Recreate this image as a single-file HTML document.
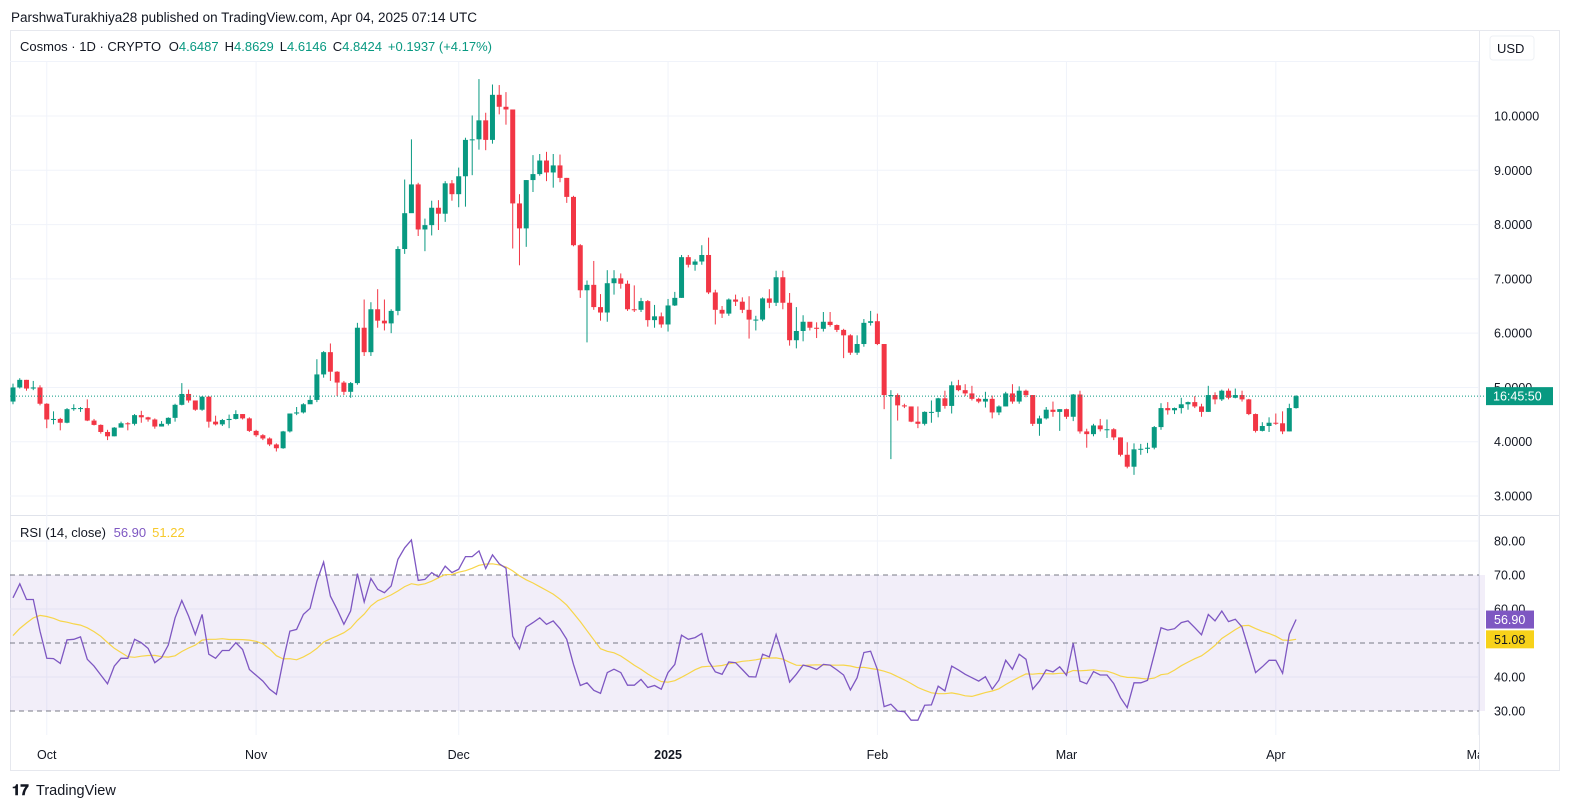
<!DOCTYPE html>
<html><head><meta charset="utf-8">
<style>
html,body{margin:0;padding:0;background:#fff;}
svg{display:block;font-family:"Liberation Sans",sans-serif;}
</style></head>
<body>
<svg id="chart" width="1570" height="810" viewBox="0 0 1570 810" xmlns="http://www.w3.org/2000/svg">
<defs><clipPath id="plotclip"><rect x="0" y="0" width="1479" height="810"/></clipPath></defs>
<rect x="0" y="0" width="1570" height="810" fill="#ffffff"/>
<text x="11" y="22" font-size="13.5" fill="#131722">ParshwaTurakhiya28 published on TradingView.com, Apr 04, 2025 07:14 UTC</text>
<rect x="10.5" y="30.5" width="1549" height="740" fill="none" stroke="#e6e8ee"/>
<line x1="10" y1="61.5" x2="1479" y2="61.5" stroke="#f0f3fa"/>
<line x1="1479.5" y1="30" x2="1479.5" y2="770" stroke="#e6e8ee"/>
<line x1="10" y1="515.5" x2="1559" y2="515.5" stroke="#e0e3eb"/>
<g id="grid"></g>
<g id="rsiBand"></g>
<g id="candles"></g>
<g id="rsiLines"></g>
<g id="axes"></g>
<text x="20" y="51" font-size="13" fill="#131722">Cosmos · 1D · CRYPTO <tspan dx="4">O</tspan><tspan fill="#089981">4.6487</tspan><tspan dx="6">H</tspan><tspan fill="#089981">4.8629</tspan><tspan dx="6">L</tspan><tspan fill="#089981">4.6146</tspan><tspan dx="6">C</tspan><tspan fill="#089981">4.8424</tspan><tspan dx="6" fill="#089981">+0.1937 (+4.17%)</tspan></text>
<g>
<rect x="1490" y="36" width="44" height="24" rx="3" fill="#fff" stroke="#eef0f4"/>
<text x="1497" y="53" font-size="13" fill="#131722">USD</text>
</g>
<text x="20" y="537" font-size="13" fill="#131722">RSI (14, close) <tspan dx="4" fill="#7e57c2">56.90</tspan><tspan dx="6" fill="#f7c92b">51.22</tspan></text>
<g>
<text x="12" y="795" font-size="15" font-weight="bold" fill="#131722">𝟏𝟕</text>
<text x="36" y="795" font-size="14.5" fill="#131722">TradingView</text>
</g>
</svg>
<script>
const closes=[5.00,5.14,4.98,5.00,4.70,4.41,4.42,4.35,4.60,4.62,4.62,4.39,4.31,4.18,4.10,4.26,4.34,4.33,4.49,4.45,4.41,4.28,4.33,4.44,4.68,4.88,4.76,4.59,4.83,4.37,4.32,4.40,4.42,4.51,4.43,4.20,4.12,4.06,3.95,3.88,4.19,4.52,4.54,4.69,4.77,5.24,5.65,5.29,5.09,4.92,5.08,6.10,5.65,6.44,6.23,6.18,6.41,7.55,8.21,8.74,7.91,7.99,8.31,8.20,8.76,8.56,8.89,9.56,9.57,9.92,9.56,10.39,10.17,10.12,8.39,7.93,8.82,8.93,9.18,8.96,9.09,8.86,8.51,7.62,6.79,6.89,6.48,6.38,6.92,7.01,6.91,6.44,6.43,6.59,6.24,6.31,6.16,6.51,6.65,7.40,7.26,7.32,7.44,6.75,6.43,6.36,6.62,6.58,6.43,6.25,6.25,6.64,6.56,7.03,6.56,5.87,6.04,6.21,6.10,6.08,6.21,6.15,6.06,5.96,5.64,5.80,6.19,6.22,5.80,4.86,4.86,4.67,4.65,4.37,4.33,4.55,4.55,4.80,4.66,5.04,4.95,4.89,4.79,4.74,4.79,4.54,4.65,4.89,4.74,4.94,4.86,4.33,4.43,4.59,4.55,4.60,4.46,4.87,4.19,4.14,4.30,4.23,4.23,4.08,3.76,3.54,3.86,3.87,3.89,4.27,4.62,4.58,4.62,4.69,4.73,4.65,4.55,4.86,4.78,4.94,4.81,4.86,4.78,4.51,4.20,4.29,4.35,4.34,4.19,4.62,4.84];
const highs=[5.07,5.17,5.14,5.12,5.04,4.71,4.56,4.44,4.62,4.69,4.64,4.78,4.42,4.32,4.22,4.27,4.37,4.36,4.51,4.57,4.46,4.43,4.38,4.45,4.70,5.08,4.96,4.76,4.84,4.84,4.48,4.42,4.50,4.58,4.51,4.45,4.22,4.14,4.08,3.97,4.20,4.52,4.64,4.71,4.85,5.52,5.67,5.81,5.30,5.12,5.10,6.19,6.62,6.57,6.81,6.62,6.44,7.60,8.83,9.57,8.77,8.11,8.44,8.45,8.80,8.82,9.05,9.60,10.01,10.68,10.06,10.58,10.57,10.44,10.12,8.56,8.82,9.28,9.30,9.34,9.30,9.29,8.86,8.53,7.64,6.97,7.33,6.72,7.16,7.16,7.10,6.97,6.88,6.65,6.61,6.52,6.38,6.63,6.76,7.44,7.44,7.36,7.62,7.76,6.80,6.50,6.64,6.71,6.66,6.68,6.32,6.66,6.81,7.15,7.15,6.74,6.48,6.33,6.20,6.20,6.39,6.39,6.16,6.08,5.98,5.96,6.26,6.41,6.36,5.80,4.95,4.89,4.70,4.65,4.65,4.56,4.76,4.81,4.94,5.11,5.14,5.06,5.03,4.81,4.92,4.85,4.67,4.92,5.06,5.02,4.96,4.86,4.48,4.64,4.74,4.60,4.61,4.88,4.94,4.24,4.33,4.42,4.41,4.25,4.08,3.99,3.97,3.96,3.98,4.29,4.71,4.73,4.63,4.81,4.74,4.84,4.70,5.03,4.91,4.96,4.98,4.98,4.94,4.79,4.52,4.36,4.45,4.52,4.56,4.70,4.86];
const lows=[4.69,4.98,4.94,4.95,4.67,4.25,4.32,4.21,4.34,4.57,4.55,4.38,4.30,4.15,4.03,4.10,4.30,4.21,4.30,4.35,4.37,4.24,4.28,4.30,4.37,4.67,4.72,4.57,4.57,4.26,4.30,4.29,4.25,4.41,4.41,4.18,4.09,4.03,3.92,3.82,3.87,4.17,4.49,4.52,4.70,4.73,5.18,5.12,4.84,4.86,4.81,5.05,5.58,5.58,6.10,6.05,6.00,6.33,7.46,8.23,7.79,7.51,7.80,7.90,8.05,8.44,8.32,8.33,8.91,9.38,9.37,9.49,10.03,9.84,7.56,7.25,7.59,8.60,8.90,8.80,8.68,8.78,8.40,7.60,6.65,5.83,6.43,6.23,6.21,6.71,6.82,6.41,6.39,6.39,6.12,6.10,6.10,6.03,6.50,6.65,7.21,7.15,7.26,6.72,6.16,6.28,6.32,6.50,6.37,5.90,6.05,6.22,6.46,6.50,6.44,5.77,5.72,5.85,6.05,5.91,6.03,6.12,6.02,5.54,5.60,5.60,5.75,6.14,5.78,4.60,3.68,4.39,4.62,4.36,4.25,4.30,4.35,4.45,4.61,4.52,4.93,4.84,4.76,4.71,4.63,4.43,4.49,4.65,4.70,4.70,4.82,4.29,4.11,4.41,4.46,4.20,4.42,4.38,4.15,3.89,4.10,4.19,4.07,4.03,3.73,3.51,3.39,3.76,3.79,3.86,4.22,4.50,4.51,4.52,4.59,4.62,4.46,4.55,4.69,4.75,4.78,4.80,4.74,4.49,4.17,4.19,4.18,4.31,4.14,4.19,4.61];
const firstOpen=4.74;
const rsiValues=[63.3,67.4,62.8,62.8,53.5,45.5,45.4,44.0,50.9,51.1,51.8,45.2,43.2,40.6,38.0,43.2,45.5,45.5,51.1,50.1,48.4,44.2,45.7,49.4,57.4,62.5,57.9,52.5,58.4,46.7,45.5,47.8,47.8,50.1,48.1,42.2,40.5,38.8,36.4,34.9,44.7,53.5,54.0,58.4,60.2,68.2,73.8,63.8,59.9,55.5,59.4,70.4,62.1,69.0,65.8,64.8,66.8,74.6,78.0,80.3,68.4,68.7,70.7,69.4,72.6,70.7,
71.7,75.4,75.4,77.1,71.9,75.9,73.3,72.0,52.0,48.3,54.7,56.0,57.4,55.5,56.5,54.2,51.1,43.7,37.5,38.3,36.1,35.2,41.3,42.3,41.3,37.6,37.6,39.3,36.9,37.5,36.4,41.3,43.7,52.3,51.1,51.6,52.8,44.7,41.5,40.8,44.4,44.2,42.2,40.1,40.0,46.7,45.9,52.5,46.2,38.5,40.8,43.5,43.0,42.2,43.7,43.5,42.1,40.6,36.2,39.8,47.2,47.6,42.2,31.3,32.0,
30.0,29.8,27.3,27.3,31.7,31.8,37.3,35.9,43.2,42.1,40.8,39.8,38.8,40.1,36.4,39.1,44.9,42.3,46.7,45.2,36.4,38.8,42.1,41.5,43.0,40.5,49.9,38.8,38.0,41.6,40.6,40.6,38.1,33.9,31.0,38.3,38.3,39.0,46.7,54.5,53.8,54.2,56.0,56.5,54.5,52.4,58.4,56.5,59.4,56.3,57.0,54.7,48.1,41.3,43.0,44.9,44.9,41.1,52.6,56.9];
const rsiPrior=[38,40,42,43,50,53,55,56,58,57,56,59,60];
const priceTicks=[3,4,5,6,7,8,9,10];
const rsiTicks=[30,40,50,60,70,80];
const monthLabels=["Oct","Nov","Dec","2025","Feb","Mar","Apr","May"];
const monthDayIndex=[5,36,66,97,128,156,187,217];

const NS="http://www.w3.org/2000/svg";
function mk(tag,attrs,parent){const e=document.createElementNS(NS,tag);for(const k in attrs)e.setAttribute(k,attrs[k]);parent.appendChild(e);return e;}
const X0=13,DX=6.753,PLEFT=10,PRIGHT=1479;
const xOf=i=>X0+i*DX;
const yP=p=>116+(10-p)*54.29;
const yR=r=>541+(80-r)*3.4;
const grid=document.getElementById('grid'),band=document.getElementById('rsiBand'),cg=document.getElementById('candles'),rl=document.getElementById('rsiLines'),ax=document.getElementById('axes');

priceTicks.forEach(p=>{const l=mk('line',{x1:PLEFT,x2:PRIGHT,y1:yP(p),y2:yP(p),stroke:'#f0f3fa'},grid);

});
[80,60,40].forEach(r=>{const l=mk('line',{x1:PLEFT,x2:PRIGHT,y1:yR(r),y2:yR(r),stroke:'#f0f3fa'},grid);

});
monthDayIndex.forEach(d=>{const x=xOf(d);if(x<PRIGHT){const l=mk('line',{x1:x,x2:x,y1:62,y2:735,stroke:'#f0f3fa'},grid);

}});

const br=mk('rect',{x:PLEFT,y:yR(70),width:1485-PLEFT,height:yR(30)-yR(70),fill:'rgba(126,87,194,0.1)'},band);


[70,50,30].forEach(r=>{const l=mk('line',{x1:PLEFT,x2:1479,y1:yR(r),y2:yR(r),stroke:'#787b86','stroke-dasharray':'5,4','stroke-width':1},band);

});

closes.forEach((c,i)=>{
  const o=i===0?firstOpen:closes[i-1];
  const up=c>=o;const col=up?'#089981':'#f23645';
  const x=xOf(i);
  const g=mk('g',{},cg);
  
  
  mk('line',{x1:x,x2:x,y1:yP(highs[i]),y2:yP(lows[i]),stroke:col,'stroke-width':1},g);
  const t=yP(Math.max(o,c)),b=yP(Math.min(o,c));
  mk('rect',{x:x-2.5,y:t,width:5,height:Math.max(1,b-t),fill:col},g);
});
const lastC=closes[closes.length-1];
const lp=mk('line',{x1:PLEFT,x2:1486,y1:yP(lastC),y2:yP(lastC),stroke:'#089981','stroke-dasharray':'1,2'},cg);



const all=rsiPrior.concat(rsiValues);
const ma=rsiValues.map((v,i)=>{let s=0;for(let k=0;k<14;k++)s+=all[i+rsiPrior.length-k];return s/14;});
const maPath=mk('path',{d:ma.map((v,i)=>(i?'L':'M')+xOf(i).toFixed(1)+' '+yR(v).toFixed(1)).join(''),fill:'none',stroke:'#f7d54a','stroke-width':1.2},rl);


const rsiPath=mk('path',{d:rsiValues.map((v,i)=>(i?'L':'M')+xOf(i).toFixed(1)+' '+yR(v).toFixed(1)).join(''),fill:'none',stroke:'#7e57c2','stroke-width':1.3},rl);



priceTicks.forEach(p=>{const t=mk('text',{x:1494,y:yP(p)+4.5,'font-size':12.5,fill:'#131722'},ax);t.textContent=p.toFixed(4);

});
rsiTicks.forEach(r=>{const t=mk('text',{x:1494,y:yR(r)+4.5,'font-size':12.5,fill:'#131722'},ax);t.textContent=r.toFixed(2);

});
const pb=mk('g',{},ax);


mk('rect',{x:1486,y:yP(lastC)-9,width:67,height:18,fill:'#089981'},pb);
const pbt=mk('text',{x:1493,y:yP(lastC)+4.5,'font-size':12.5,fill:'#fff'},pb);pbt.textContent='16:45:50';
const lastR=rsiValues[rsiValues.length-1],lastM=ma[ma.length-1];
const rb=mk('g',{},ax);


mk('rect',{x:1486,y:yR(lastR)-9,width:48,height:18,fill:'#7e57c2'},rb);
const rbt=mk('text',{x:1494,y:yR(lastR)+4.5,'font-size':12.5,fill:'#fff'},rb);rbt.textContent=lastR.toFixed(2);
const mb=mk('g',{},ax);


const myy=Math.max(yR(lastM),yR(lastR)+18);
mk('rect',{x:1486,y:myy-9,width:48,height:18,fill:'#f7d21a'},mb);
const mbt=mk('text',{x:1494,y:myy+4.5,'font-size':12.5,fill:'#131722'},mb);mbt.textContent=lastM.toFixed(2);
const tg=mk('g',{'clip-path':'url(#plotclip)'},ax);
monthLabels.forEach((m,k)=>{const t=mk('text',{x:xOf(monthDayIndex[k]),y:759,'font-size':12.5,fill:'#131722','text-anchor':'middle','font-weight':m==='2025'?'bold':'normal'},tg);t.textContent=m;

});
</script>
</body></html>
